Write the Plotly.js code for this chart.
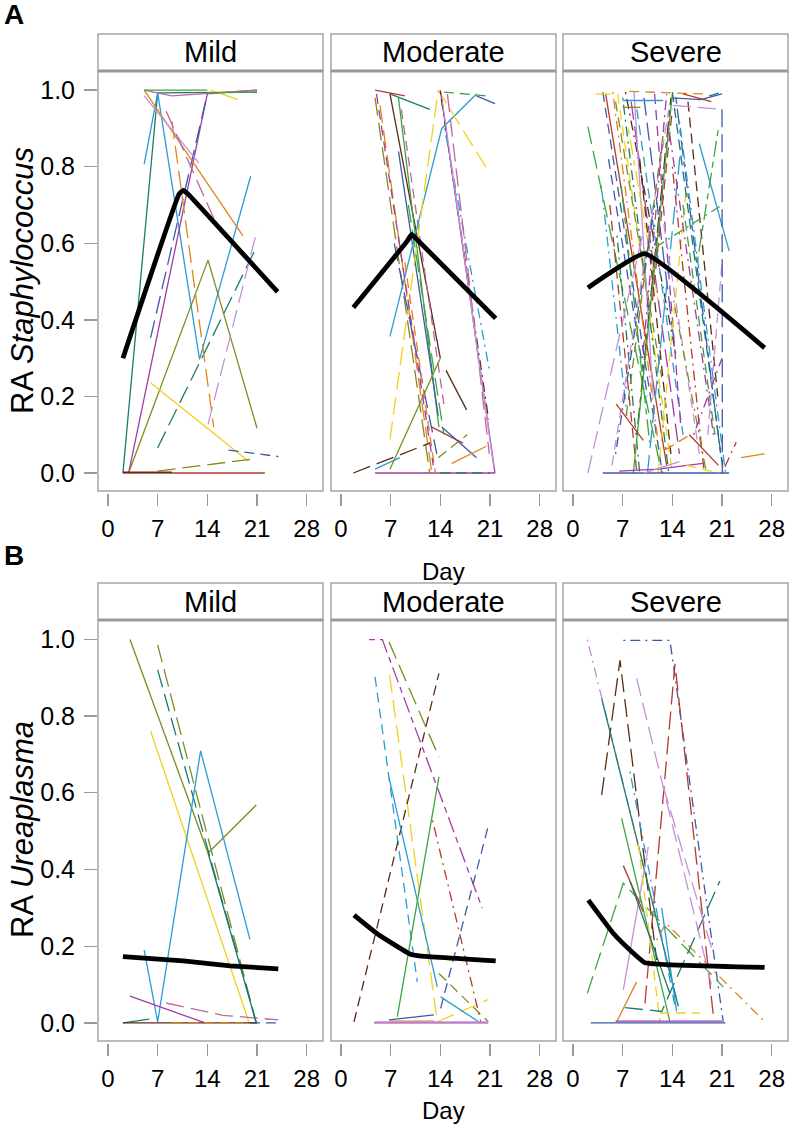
<!DOCTYPE html>
<html><head><meta charset="utf-8">
<script src="https://cdn.plot.ly/plotly-3.0.1.min.js"></script>
<style>html,body{margin:0;padding:0;background:#fff}#chart{width:790px;height:1132px}</style>
</head><body><div id="chart"></div>
<script>
// ---------- data ----------
const dayTicks = [0, 7, 14, 21, 28];
const raTicks = [0, 0.2, 0.4, 0.6, 0.8, 1.0];
const raTickText = ['0.0', '0.2', '0.4', '0.6', '0.8', '1.0'];
const severityLabels = ['Mild', 'Moderate', 'Severe'];

// A: Staphylococcus, Mild
const mildStaphDay = [[2.1,7.0,21.0],[5.1,7.0,12.9,20.1],[2.9,14.0,21.0],[2.9,14.1,21.0],[6.0,19.8],[7.0,21.0],[6.0,14.0],[9.0,14.9],[5.1,19.0],[5.1,12.8],[8.2,15.5],[14.1,21.0],[17.0,24.0],[7.0,21.0],[2.1,22.1],[2.1,9.0],[14.5,18.3],[5.1,9.0,21.0],[14.0,21.0],[5.1,14.0]];
const mildStaphRA = [[0.0,0.993,0.995],[0.807,0.993,0.297,0.775],[0.0,0.99,1.0],[0.0,0.556,0.117],[0.236,0.031],[0.066,0.593],[0.353,0.99],[0.919,0.12],[1.0,0.62],[0.985,0.81],[0.945,0.64],[0.127,0.634],[0.06,0.043],[0.005,0.038],[0.0,0.0],[0.002,0.002],[1.0,0.975],[1.0,0.985,1.0],[0.993,0.995],[1.0,1.0]];
const mildStaphCol = [0,1,2,3,5,0,9,4,4,8,11,8,9,3,7,6,5,11,10,10];
const mildStaphDash = [0,0,0,0,0,4,4,4,0,0,4,4,1,4,0,0,0,0,0,0];
const mildStaphMeanDay = [2.1,10.0,10.6,11.2,23.9];
const mildStaphMeanRA = [0.30,0.728,0.738,0.73,0.473];

// A: Staphylococcus, Moderate
const modStaphDay = [[4.8,12.5],[6.9,14.0],[8.1,13.8],[5.5,12.8],[8.1,13.7],[8.5,14.5],[6.9,14.2,19.1],[6.9,13.7,20.5],[14.0,21.7],[14.0,20.8],[14.6,21.0],[15.0,20.9],[14.8,17.7],[1.74,12.5],[4.8,8.3],[6.9,14.0],[12.8,17.2],[14.2,19.1],[15.6,20.5],[13.7,17.8],[6.9,12.5],[19.1,21.7],[4.8,21.7],[14.0,21.0],[4.8,9.0],[14.3,21.5],[7.5,13.5],[14.5,20.5],[9.0,13.3],[5.0,13.0],[9.5,14.5]];
const modStaphRA = [[0.98,0.0],[0.99,0.30],[0.98,0.12],[0.96,0.0],[0.84,0.15],[0.95,0.18],[0.357,0.9,0.99],[0.088,1.0,0.797],[1.0,0.0],[0.995,0.14],[0.9,0.26],[0.99,0.05],[0.268,0.165],[0.0,0.078],[0.01,0.04],[0.01,0.30],[0.12,0.078],[0.12,0.04],[0.025,0.07],[0.04,0.1],[0.99,0.95],[0.985,0.965],[0.0,0.0],[0.0,0.0],[1.0,0.985],[0.97,0.02],[0.6,0.05],[0.995,0.985],[0.55,0.0],[0.99,0.02],[0.7,0.1]];
const modStaphCol = [3,6,10,4,9,11,1,5,2,6,1,11,6,6,1,3,7,9,4,3,0,9,2,0,7,8,9,10,4,2,10];
const modStaphDash = [4,0,0,4,0,1,0,4,0,3,3,4,0,4,0,0,0,0,0,1,0,0,0,1,0,0,4,1,1,1,4];
const modStaphMeanDay = [1.74,9.3,9.95,10.6,21.8];
const modStaphMeanRA = [0.432,0.605,0.623,0.612,0.404];

// A: Staphylococcus, Severe
const sevStaphDay = [[4.2,12.6],[4.6,13.2],[5.6,12.0],[6.3,14.0],[7.0,13.5],[8.2,15.0],[2.1,12.5],[5.0,10.5],[6.0,12.5],[7.4,14.6],[9.0,15.5],[8.6,11.3],[5.2,9.0],[6.8,10.8],[4.0,7.6],[10.0,14.2],[11.5,15.2],[7.8,12.0],[9.4,13.8],[6.2,9.4],[9.0,13.8],[8.5,14.0],[5.5,13.5],[9.8,13.2],[10.5,15.2],[7.5,12.8],[11.2,14.0],[12.0,16.0],[6.0,11.5],[2.1,9.9],[14.0,21.2],[14.5,20.8],[13.5,19.8],[15.0,21.5],[14.0,18.5],[15.5,20.0],[12.8,17.8],[16.2,20.4],[14.2,18.8],[17.8,22.0],[17.5,20.5],[19.0,21.0],[17.0,21.0],[10.8,21.0],[14.1,21.0],[21.0,21.05],[3.2,5.3],[7.0,12.7],[7.9,18.3],[7.0,9.5],[14.0,18.0,21.0],[15.5,19.5],[19.2,21.0],[4.2,22.0],[6.5,12.0,18.3],[10.0,15.0],[16.0,20.5],[23.7,27.0],[6.1,9.9],[16.4,20.5],[13.0,16.5],[21.0,23.0]];
const sevStaphRA = [[0.995,0.0],[0.99,0.02],[0.995,0.08],[0.99,0.0],[0.98,0.0],[0.97,0.05],[0.905,0.0],[0.82,0.2],[0.97,0.25],[0.995,0.3],[0.95,0.1],[0.995,0.2],[0.7,0.0],[0.75,0.08],[0.75,0.15],[0.98,0.35],[0.99,0.12],[0.9,0.45],[0.82,0.05],[0.62,0.0],[0.1,0.98],[0.0,0.99],[0.02,0.95],[0.3,0.99],[0.0,0.85],[0.15,0.9],[0.45,0.95],[0.0,0.75],[0.05,0.7],[0.0,0.63],[0.995,0.0],[0.98,0.05],[0.9,0.1],[0.92,0.0],[0.8,0.0],[0.7,0.1],[0.65,0.05],[0.97,0.2],[0.45,0.0],[0.86,0.58],[0.55,0.9],[0.1,0.55],[0.1,0.3],[0.58,0.70],[0.96,0.95],[0.95,0.0],[0.99,0.99],[0.973,0.973],[0.997,0.99],[0.955,0.955],[0.98,0.975,0.99],[0.99,0.97],[0.985,0.995],[0.0,0.0],[0.005,0.01,0.025],[0.0,0.03],[0.02,0.0],[0.04,0.05],[0.18,0.085],[0.1,0.02],[0.06,0.1],[0.0,0.08]];
const sevStaphCol = [9,7,4,5,0,2,10,9,3,6,1,8,7,10,1,9,2,5,6,0,6,10,8,2,1,3,7,5,9,8,0,9,2,1,7,10,8,6,3,1,10,8,2,10,8,9,5,1,4,3,9,7,0,9,2,8,5,4,7,7,4,7];
const sevStaphDash = [1,0,3,1,3,4,4,1,1,3,1,0,1,5,3,4,1,5,1,3,5,0,1,3,4,1,1,1,3,4,1,5,3,3,3,1,1,1,3,0,5,1,3,3,4,4,0,0,1,0,0,0,1,0,0,0,1,0,0,0,1,3];
const sevStaphMeanDay = [2.1,10.1,27.0];
const sevStaphMeanRA = [0.484,0.573,0.327];

// B: Ureaplasma, Mild
const mildUreaDay = [[3.1,14.1,20.9],[7.0,20.9],[7.0,20.9],[6.0,19.9],[5.1,7.0,13.05,20.0],[3.1,13.7],[8.2,16.2,24.0],[20.0,24.0],[2.1,5.8],[2.1,21.0],[9.0,19.0],[14.1,20.9]];
const mildUreaRA = [[0.999,0.443,0.568],[0.985,0.0],[0.92,0.0],[0.761,0.0],[0.19,0.003,0.709,0.218],[0.07,0.0],[0.052,0.02,0.008],[0.0,0.0],[0.0,0.01],[0.0,0.0],[0.0,0.0],[0.443,0.0]];
const mildUreaCol = [3,3,0,5,1,2,11,9,0,6,4,0];
const mildUreaDash = [0,4,4,0,0,0,4,1,0,0,1,0];
const mildUreaMeanDay = [2.1,10.6,17.2,24.0];
const mildUreaMeanRA = [0.173,0.162,0.149,0.141];

// B: Ureaplasma, Moderate
const modUreaDay = [[3.94,5.82,19.9],[6.76,13.8],[4.79,10.75],[6.85,13.57,20.75],[1.83,13.8],[6.76,13.57],[14.04,19.4],[7.93,13.8],[12.9,19.7],[14.04,20.85],[6.76,13.1],[13.8,20.75],[4.65,20.75],[6.8,13.1],[4.79,20.75]];
const modUreaRA = [[0.999,0.999,0.299],[0.993,0.693],[0.902,0.107],[0.906,0.003,0.061],[0.003,0.911],[0.64,0.094],[0.068,0.003],[0.016,0.641],[0.528,0.003],[0.038,0.52],[0.008,0.021],[0.129,0.003],[0.0,0.0],[0.005,0.005],[0.003,0.003]];
const modUreaCol = [2,3,1,5,6,1,1,10,7,9,9,3,2,4,8];
const modUreaDash = [5,4,1,4,1,0,0,0,3,1,0,1,0,0,0];
const modUreaMeanDay = [1.83,5.35,9.8,11.0,21.8];
const modUreaMeanRA = [0.281,0.229,0.179,0.175,0.162];

// B: Ureaplasma, Severe
const sevUreaDay = [[2.02,14.84],[7.09,13.66,21.17],[4.04,6.62,11.78],[10.14,14.37,19.77],[4.04,14.84],[8.03,14.37],[2.02,7.09,21.17],[6.85,13.66],[6.15,8.97],[11.78,13.1,27.04],[7.09,10.61],[9.2,12.25],[12.25,17.9],[7.32,12.5,20.7],[8.97,19.5],[12.72,19.77],[6.0,21.0],[2.5,21.5],[12.5,14.6],[7.09,9.9],[8.03,13.66]];
const sevUreaRA = [[0.999,0.043],[0.997,0.997,0.003],[0.594,0.945,0.164],[0.051,0.936,0.021],[0.846,0.043],[0.655,0.043],[0.077,0.364,0.094],[0.533,0.003],[0.003,0.107],[0.216,0.26,0.003],[0.086,0.459],[0.468,0.003],[0.026,0.026],[0.04,0.03,0.37],[0.898,0.1],[0.616,0.181],[0.005,0.005],[0.0,0.0],[0.3,0.03],[0.41,0.29],[0.37,0.077]];
const sevUreaCol = [8,9,6,7,0,1,10,10,4,4,8,5,5,0,8,8,2,9,1,7,0];
const sevUreaDash = [3,3,4,4,0,3,4,0,0,3,0,1,1,4,4,4,0,0,0,0,0];
const sevUreaMeanDay = [2.16,5.7,8.03,10.14,27.0];
const sevUreaMeanRA = [0.32,0.233,0.19,0.157,0.145];

// ---------- styles ----------
const palette = ['#1b7b6d','#2b9cd3','#a43aa5','#7f8b24','#e0841c','#f1d11c','#5a2c12','#b43a2c','#c391d7','#3c5aa8','#3ba53e','#c2649e'];
const dashes = ['solid','10px,6px','2px,5px','2px,5px,10px,5px','18px,7px','6px,5px,16px,5px'];
const FONT = 'Liberation Sans, Arial, Helvetica, sans-serif';

const panels = [
  {d: mildStaphDay, v: mildStaphRA, c: mildStaphCol, s: mildStaphDash, md: mildStaphMeanDay, mv: mildStaphMeanRA},
  {d: modStaphDay, v: modStaphRA, c: modStaphCol, s: modStaphDash, md: modStaphMeanDay, mv: modStaphMeanRA},
  {d: sevStaphDay, v: sevStaphRA, c: sevStaphCol, s: sevStaphDash, md: sevStaphMeanDay, mv: sevStaphMeanRA},
  {d: mildUreaDay, v: mildUreaRA, c: mildUreaCol, s: mildUreaDash, md: mildUreaMeanDay, mv: mildUreaMeanRA},
  {d: modUreaDay, v: modUreaRA, c: modUreaCol, s: modUreaDash, md: modUreaMeanDay, mv: modUreaMeanRA},
  {d: sevUreaDay, v: sevUreaRA, c: sevUreaCol, s: sevUreaDash, md: sevUreaMeanDay, mv: sevUreaMeanRA}
];

const W = 790, H = 1132;
const colX = [[98,323],[331,556],[563,788]];
const rowY = [[71,491],[620,1041]];
const stripH = 37;

const traces = [];
const layout = {
  width: W, height: H, margin: {l:0, r:0, t:0, b:0}, showlegend: false,
  paper_bgcolor: '#ffffff', plot_bgcolor: 'rgba(0,0,0,0)',
  font: {family: FONT, color: '#000'},
  shapes: [], annotations: []
};

panels.forEach((p, i) => {
  const r = Math.floor(i / 3), c = i % 3;
  const sfx = i === 0 ? '' : String(i + 1);
  const xa = 'x' + sfx, ya = 'y' + sfx;
  p.d.forEach((days, j) => {
    traces.push({type: 'scatter', mode: 'lines', x: days, y: p.v[j], xaxis: xa, yaxis: ya,
      line: {color: palette[p.c[j]], dash: dashes[p.s[j]], width: 1.3}, hoverinfo: 'skip'});
  });
  traces.push({type: 'scatter', mode: 'lines', x: p.md, y: p.mv, xaxis: xa, yaxis: ya,
    line: {color: '#000', width: 4.8, shape: 'spline', smoothing: 0.3}, hoverinfo: 'skip'});

  const plotH = rowY[r][1] - rowY[r][0];
  layout['xaxis' + sfx] = {
    domain: [colX[c][0] / W, colX[c][1] / W], range: [-1.41, 30.3],
    anchor: 'free', position: 1 - (rowY[r][1] + 2) / H,
    tickvals: dayTicks, ticktext: dayTicks.map(String), tickmode: 'array',
    ticks: 'outside', ticklen: 12, tickwidth: 1.3, tickcolor: '#9a9a9a', ticklabelstandoff: 2,
    showline: false, showgrid: false, zeroline: false,
    tickfont: {size: 24, family: FONT, color: '#000'}, fixedrange: true
  };
  layout['yaxis' + sfx] = {
    domain: [1 - rowY[r][1] / H, 1 - rowY[r][0] / H], range: [-0.047, 1.05],
    anchor: 'free', position: (colX[c][0] - 1) / W,
    tickvals: raTicks, ticktext: raTickText, tickmode: 'array',
    ticks: c === 0 ? 'outside' : '', ticklen: 13, tickwidth: 1.3, tickcolor: '#9a9a9a', ticklabelstandoff: 4,
    showticklabels: c === 0, showline: false, showgrid: false, zeroline: false,
    tickfont: {size: 25, family: FONT, color: '#000'}, fixedrange: true
  };
  layout.shapes.push({type: 'rect', xref: xa + ' domain', yref: ya + ' domain', x0: 0, x1: 1, y0: 0, y1: 1,
    line: {color: '#a6a6a6', width: 1.5}, fillcolor: 'rgba(0,0,0,0)', layer: 'above'});
  layout.shapes.push({type: 'rect', xref: xa + ' domain', yref: ya + ' domain', x0: 0, x1: 1, y0: 1, y1: 1 + stripH / plotH,
    line: {color: '#a6a6a6', width: 1.5}, fillcolor: '#ffffff'});
  layout.shapes.push({type: 'line', xref: xa + ' domain', yref: ya + ' domain', x0: 0, x1: 1, y0: 1, y1: 1,
    line: {color: '#999999', width: 3}, layer: 'above'});
  layout.annotations.push({xref: xa + ' domain', yref: ya + ' domain', x: 0.5, y: 1 + stripH / 2 / plotH,
    text: severityLabels[c], showarrow: false, xanchor: 'center', yanchor: 'middle', borderpad: 0,
    font: {size: 29, family: FONT, color: '#000'}});
});

const xTitleY = [571, 1110];
xTitleY.forEach(yy => layout.annotations.push({xref: 'paper', yref: 'paper', x: 443 / W, y: 1 - yy / H,
  text: 'Day', showarrow: false, xanchor: 'center', yanchor: 'middle', borderpad: 0, font: {size: 24, family: FONT}}));
layout.annotations.push({xref: 'paper', yref: 'paper', x: 22 / W, y: 1 - 281 / H, textangle: -90,
  text: 'RA <i>Staphylococcus</i>', showarrow: false, xanchor: 'center', yanchor: 'middle', font: {size: 31, family: FONT}});
layout.annotations.push({xref: 'paper', yref: 'paper', x: 22 / W, y: 1 - 830 / H, textangle: -90,
  text: 'RA <i>Ureaplasma</i>', showarrow: false, xanchor: 'center', yanchor: 'middle', font: {size: 31, family: FONT}});
layout.annotations.push({xref: 'paper', yref: 'paper', x: 2 / W, y: 1 - 15 / H,
  text: '<b>A</b>', showarrow: false, xanchor: 'left', yanchor: 'middle', font: {size: 28, family: FONT}});
layout.annotations.push({xref: 'paper', yref: 'paper', x: 2 / W, y: 1 - 556 / H,
  text: '<b>B</b>', showarrow: false, xanchor: 'left', yanchor: 'middle', font: {size: 28, family: FONT}});

Plotly.newPlot('chart', traces, layout, {staticPlot: true, displayModeBar: false});
</script>
</body></html>
